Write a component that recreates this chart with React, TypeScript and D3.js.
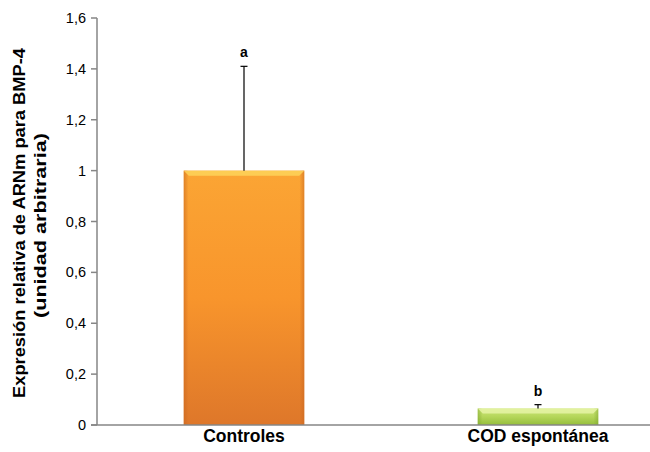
import React from "react";
import * as d3 from "d3";

const categories = ["Controles", "COD espontánea"];
const values = [1.0, 0.065];
const errors = [0.41, 0.015];
const letters = ["a", "b"];
const yTicks = [0, 0.2, 0.4, 0.6, 0.8, 1, 1.2, 1.4, 1.6];
const yTitle = ["Expresión relativa de ARNm para BMP-4", "(unidad arbitraria)"];

const W = 650;
const H = 452;
const left = 97;
const top = 18;
const bottom = 425;
const right = 685;

const palettes = [
  { top: "#FBA534", mid: "#F8952C", bottom: "#DE772A", hi: "#FDD35A", edge: "#C8661F" },
  { top: "#CDE67A", mid: "#B5D65A", bottom: "#95BE3C", hi: "#E6F3A6", edge: "#7EA62E" },
];

export default function App() {
  const x = d3.scaleBand<string>().domain(categories).range([left, right]).paddingInner(0.59).paddingOuter(0.295);
  const y = d3.scaleLinear().domain([0, 1.6]).range([bottom, top]);
  const fmt = (v: number) => (v === 0 ? "0" : String(v).replace(".", ","));
  const bw = x.bandwidth();

  return (
    <svg width={W} height={H} style={{ position: "absolute", left: 0, top: 0, background: "#fff" }} fontFamily="Arial, 'Liberation Sans', sans-serif">
      <defs>
        {palettes.map((p, i) => (
          <React.Fragment key={i}>
            <linearGradient id={`v${i}`} x1="0" y1="0" x2="0" y2="1">
              <stop offset="0" stopColor={p.top} />
              <stop offset="0.5" stopColor={p.mid} />
              <stop offset="1" stopColor={p.bottom} />
            </linearGradient>
            <linearGradient id={`h${i}`} x1="0" y1="0" x2="1" y2="0">
              <stop offset="0" stopColor={p.edge} stopOpacity="0.55" />
              <stop offset="0.04" stopColor={p.edge} stopOpacity="0" />
              <stop offset="0.96" stopColor={p.edge} stopOpacity="0" />
              <stop offset="1" stopColor={p.edge} stopOpacity="0.55" />
            </linearGradient>
          </React.Fragment>
        ))}
      </defs>

      {/* y axis */}
      <line x1={left} x2={left} y1={top} y2={bottom} stroke="#868686" strokeWidth={1.5} />
      {yTicks.map((t) => (
        <g key={t}>
          <line x1={left - 6} x2={left} y1={y(t)} y2={y(t)} stroke="#868686" strokeWidth={1.5} />
          <text x={left - 11} y={y(t)} dy="0.35em" textAnchor="end" fontSize={14.5} fill="#000">
            {fmt(t)}
          </text>
        </g>
      ))}

      {/* bars */}
      {categories.map((c, i) => {
        const x0 = x(c)!;
        const y0 = y(values[i]);
        const h = bottom - y0;
        const p = palettes[i];
        const b = Math.min(5, h / 3);
        const cx = x0 + bw / 2;
        return (
          <g key={c}>
            <rect x={x0} y={y0} width={bw} height={h} fill={`url(#v${i})`} />
            <rect x={x0} y={y0} width={bw} height={h} fill={`url(#h${i})`} />
            <polygon
              points={`${x0},${y0} ${x0 + bw},${y0} ${x0 + bw - b},${y0 + b} ${x0 + b},${y0 + b}`}
              fill={p.hi}
              opacity={0.85}
            />
            <line x1={cx} x2={cx} y1={y0} y2={y(values[i] + errors[i])} stroke="#000" strokeWidth={1.2} />
            <line x1={cx - 3.5} x2={cx + 3.5} y1={y(values[i] + errors[i])} y2={y(values[i] + errors[i])} stroke="#000" strokeWidth={1.2} />
            <text x={cx} y={y(values[i] + errors[i]) - 9} textAnchor="middle" fontSize={14} fontWeight="bold" fill="#000">
              {letters[i]}
            </text>
            <text x={cx} y={bottom + 17} textAnchor="middle" fontSize={17.5} fontWeight="bold" fill="#000">
              {c}
            </text>
          </g>
        );
      })}

      {/* x axis */}
      <line x1={left - 6} x2={right} y1={bottom} y2={bottom} stroke="#868686" strokeWidth={1.5} />

      {/* y axis title */}
      <text transform={`translate(25,223) rotate(-90)`} textAnchor="middle" fontSize={17} fontWeight="bold" fill="#000" textLength={350} lengthAdjust="spacingAndGlyphs">
        {yTitle[0]}
      </text>
      <text transform={`translate(46,225.5) rotate(-90)`} textAnchor="middle" fontSize={17} fontWeight="bold" fill="#000" textLength={185} lengthAdjust="spacingAndGlyphs">
        {yTitle[1]}
      </text>
    </svg>
  );
}
